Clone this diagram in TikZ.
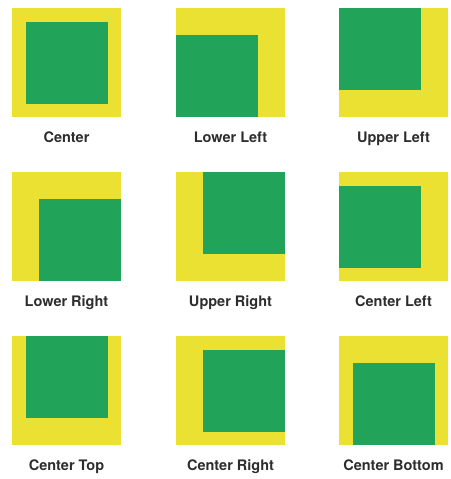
\documentclass[tikz,border=0pt]{standalone}
\usepackage{fontspec}
\setmainfont{TeX Gyre Heros}
\definecolor{padyellow}{RGB}{234,225,50}
\definecolor{boxgreen}{RGB}{33,163,90}
\definecolor{labelgray}{RGB}{45,45,45}

\begin{document}
\begin{tikzpicture}[x=1pt,y=-1pt,font=\fontsize{14.5}{17}\selectfont\bfseries,text=labelgray]
	\useasboundingbox (0,0) rectangle (450,479);
	
	% yellow frame, green box moved by dx/dy inside it
	\foreach \x/\y/\dx/\dy/\name [count=\n] in {
			12/8/14/14/Center, 176/8/0/27/Lower Left, 339/8/0/0/Upper Left,
			12/172/27/27/Lower Right, 176/172/27/0/Upper Right, 339/172/0/14/Center Left,
			12/336/14/0/Center Top, 176/336/27/14/Center Right, 339/336/14/27/Center Bottom} {
		\fill[padyellow] (\x,\y) rectangle ++(109,109);
		\fill[boxgreen] (\x+\dx,\y+\dy) rectangle ++(82,82);
		\node[anchor=base,inner sep=0pt] (label\n) at (\x+54.5,\y+134.5) {\name};
	}
\end{tikzpicture}
\end{document}
